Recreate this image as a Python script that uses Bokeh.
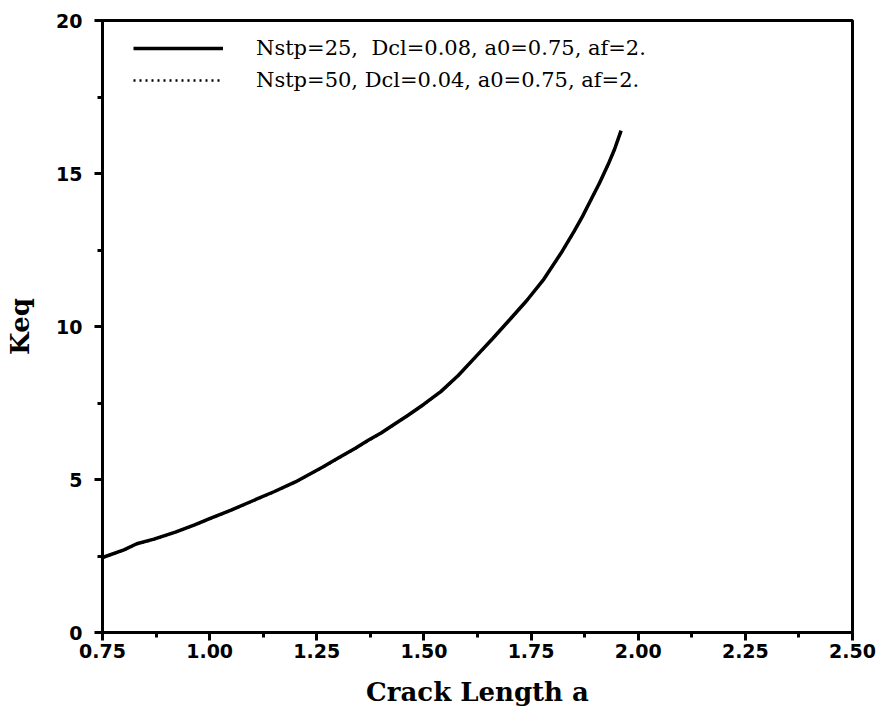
from bokeh.plotting import figure
from bokeh.models import FixedTicker, Legend, LegendItem, NumeralTickFormatter
from bokeh.embed import file_html
from bokeh.resources import INLINE

# Crack length a and Keq
a_25 = [0.75, 0.80, 0.83, 0.87, 0.92, 0.965, 1.00, 1.05, 1.105, 1.15, 1.20, 1.263, 1.30, 1.34, 1.37,
        1.40, 1.43, 1.463, 1.50, 1.54, 1.58, 1.62, 1.66, 1.70, 1.74, 1.78, 1.82, 1.85, 1.87, 1.89,
        1.91, 1.93, 1.945, 1.96]
k_25 = [2.45, 2.70, 2.90, 3.05, 3.28, 3.52, 3.72, 4.00, 4.33, 4.60, 4.92, 5.40, 5.70, 6.02, 6.28,
        6.52, 6.80, 7.10, 7.46, 7.88, 8.40, 9.00, 9.60, 10.22, 10.85, 11.55, 12.40, 13.10, 13.60, 14.15,
        14.70, 15.30, 15.80, 16.40]
a_50 = [0.75, 0.80, 0.83, 0.87, 0.92, 0.965, 1.00, 1.05, 1.105, 1.15, 1.20, 1.263, 1.30, 1.34, 1.37,
        1.40, 1.43, 1.463, 1.50, 1.54, 1.58, 1.62, 1.66, 1.70, 1.74, 1.78, 1.82, 1.85, 1.87, 1.89,
        1.91, 1.93, 1.945, 1.96]
k_50 = [2.44, 2.69, 2.89, 3.04, 3.27, 3.51, 3.71, 3.99, 4.32, 4.59, 4.91, 5.39, 5.69, 6.01, 6.27,
        6.51, 6.79, 7.09, 7.45, 7.87, 8.39, 8.99, 9.59, 10.21, 10.84, 11.54, 12.39, 13.09, 13.59, 14.14,
        14.69, 15.29, 15.79, 16.39]

x_ticks = [0.75, 1.00, 1.25, 1.50, 1.75, 2.00, 2.25, 2.50]
x_minor = [0.875, 1.125, 1.375, 1.625, 1.875, 2.125, 2.375]
y_ticks = [0, 5, 10, 15, 20]
y_minor = [2.5, 7.5, 12.5, 17.5]

label_25 = "Nstp=25,  Dcl=0.08, a0=0.75, af=2."
label_50 = "Nstp=50, Dcl=0.04, a0=0.75, af=2."

p = figure(width=880, height=720, x_range=(0.75, 2.5), y_range=(0, 20),
           output_backend="svg", toolbar_location=None,
           min_border_left=102, min_border_right=28, min_border_top=20, min_border_bottom=88)

r1 = p.line(a_25, k_25, line_color="black", line_width=3.5)
r2 = p.line(a_50, k_50, line_color="black", line_width=2.5, line_dash="2 4")

p.xgrid.visible = False
p.ygrid.visible = False
p.outline_line_color = "black"
p.outline_line_width = 3

p.xaxis.ticker = FixedTicker(ticks=x_ticks, minor_ticks=x_minor)
p.yaxis.ticker = FixedTicker(ticks=y_ticks, minor_ticks=y_minor)
p.xaxis.formatter = NumeralTickFormatter(format="0.00")

for ax in (p.xaxis[0], p.yaxis[0]):
    ax.axis_line_width = 3
    ax.axis_line_color = "black"
    ax.major_tick_line_width = 3
    ax.minor_tick_line_width = 3
    ax.major_tick_in = 0
    ax.minor_tick_in = 0
    ax.major_tick_out = 8
    ax.minor_tick_out = 5
    ax.major_label_text_font = "DejaVu Sans"
    ax.major_label_text_font_style = "bold"
    ax.major_label_text_font_size = "19px"
    ax.major_label_text_color = "black"
    ax.axis_label_text_font = "DejaVu Serif"
    ax.axis_label_text_font_style = "bold"
    ax.axis_label_text_font_size = "26px"
    ax.axis_label_text_color = "black"

p.xaxis.axis_label = "Crack Length a"
p.yaxis.axis_label = "Keq"
p.xaxis.major_label_standoff = 3
p.xaxis.axis_label_standoff = 16
p.yaxis.major_label_standoff = 12
p.yaxis.axis_label_standoff = 18

legend = Legend(items=[LegendItem(label=label_25, renderers=[r1]),
                       LegendItem(label=label_50, renderers=[r2])],
                location=(31, 540))
legend.border_line_color = None
legend.background_fill_alpha = 0
legend.padding = 0
legend.margin = 0
legend.spacing = 8
legend.glyph_width = 90
legend.glyph_height = 20
legend.label_height = 20
legend.label_standoff = 33
legend.label_text_font = "DejaVu Serif"
legend.label_text_font_size = "21px"
legend.label_text_color = "black"
p.add_layout(legend)

open("out.html", "w").write(file_html(p, INLINE))
